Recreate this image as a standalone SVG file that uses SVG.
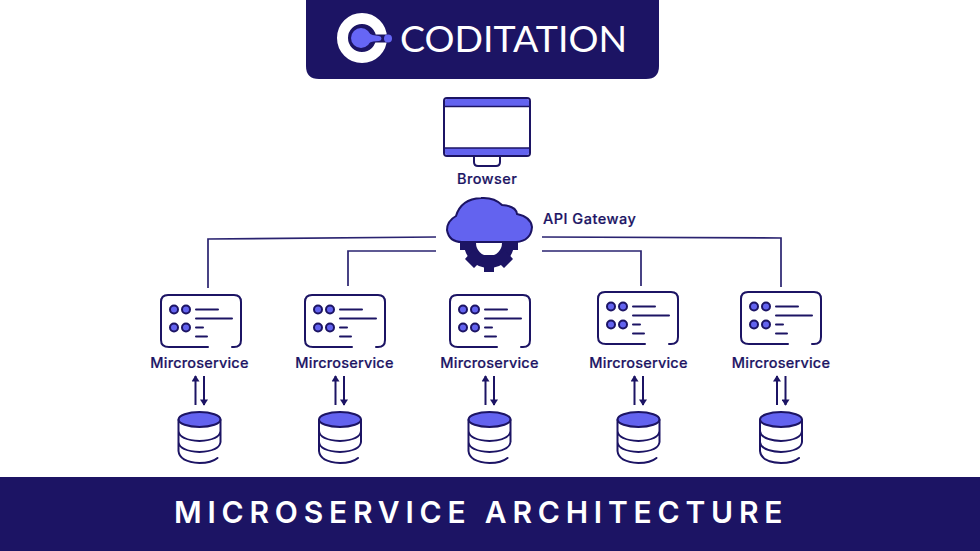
<svg xmlns="http://www.w3.org/2000/svg" xmlns:xlink="http://www.w3.org/1999/xlink" width="980" height="551" viewBox="0 0 980 551">
<style>
.ln{fill:none;stroke:#1c1464;stroke-width:2;stroke-linecap:round;stroke-linejoin:round}
.cn{fill:none;stroke:#2a2370;stroke-width:1.7}
.fl{fill:#6363ef;stroke:#1c1464;stroke-width:2}
.lb{font-family:"Inter","Open Sans",sans-serif;font-weight:500;fill:#1c1464;font-size:14.500px;letter-spacing:.2px;stroke:#1c1464;stroke-width:.2px}
</style>
<defs>
<marker id="ah" viewBox="0 0 8 10" refX="7" refY="5" markerWidth="8" markerHeight="8" markerUnits="userSpaceOnUse" orient="auto-start-reverse"><path d="M0 0L8 5L0 10Z" fill="#1c1464"/></marker>
<g id="card">
<path class="ln" d="M48 52H9Q1 52 1 45V7Q1 0 8 0H74Q81 0 81 7V45Q81 52 74 52H72"/>
<circle class="fl" cx="14" cy="14.500" r="4"/><circle class="fl" cx="26" cy="14.500" r="4"/>
<circle class="fl" cx="14" cy="32.500" r="4"/><circle class="fl" cx="26" cy="32.500" r="4"/>
<path class="ln" d="M36 14.500H58M36 23.500H72M36 32.500H43M36 41.500H47"/>
</g>
<g id="db">
<ellipse class="fl" cx="0" cy="7.500" rx="21" ry="7.500"/>
<path class="ln" d="M-21 8V39Q-20 50 0 51Q12 51 18 46M-21 19Q-20 28 0 29Q20 28 21 19M-21 30Q-20 39 0 40Q20 39 21 30M21 8V30"/>
</g>
<g id="arrows">
<path d="M-4 41V12" stroke="#1c1464" stroke-width="2" marker-end="url(#ah)"/>
<path d="M4.500 12V41" stroke="#1c1464" stroke-width="2" marker-end="url(#ah)"/>
</g>
</defs>
<rect width="980" height="551" fill="#fff"/>
<g id="header">
<path d="M306 0H659V66Q659 79 646 79H319Q306 79 306 66Z" fill="#1c1464"/>
<circle cx="362" cy="38" r="19.500" fill="none" stroke="#fff" stroke-width="11"/>
<path d="M375 34.500H392V42.500H375Z" fill="#1c1464"/>
<circle cx="361" cy="38" r="10" fill="#6666f5"/>
<path d="M368 33Q373 36 379 36A2.500 2.500 0 0 1 379 41Q373 41 368 43Z" fill="#6666f5"/>
<circle cx="388" cy="38.500" r="4" fill="#6666f5"/>
<text x="400" y="52" font-family="Lato,sans-serif" font-size="37" fill="#fff" textLength="227" lengthAdjust="spacingAndGlyphs">CODITATION</text>
</g>
<g id="browser">
<rect x="444" y="98" width="86" height="58" rx="3" fill="#fff" stroke="#1c1464" stroke-width="2"/>
<path d="M445 106V101Q445 99 447 99H527Q529 99 529 101V106ZM445 148V153Q445 155 447 155H527Q529 155 529 153V148Z" fill="#6363ef"/>
<path d="M445 106.500H529M445 148H529" stroke="#1c1464" stroke-width="1.500" fill="none"/>
<path class="ln" d="M474 157L474 162Q474 166 478 166H496Q500 166 500 162L500 157" stroke-width="1.500"/>
<text class="lb" x="487" y="183.500" text-anchor="middle" textLength="60">Browser</text>
</g>
<g id="gateway">
<circle cx="489" cy="243" r="19" fill="none" stroke="#1c1464" stroke-width="12"/>
<path d="M484 255H494V272H484ZM460 238H472V250H460ZM506 238H518V250H506ZM465 259L473 250L484 258L474 268ZM513 259L505 250L494 258L504 268Z" fill="#1c1464"/>
<path d="M462 242H516Q531 241 532 227Q531 217 517 214Q516 206 502 205Q494 197 481 198Q461 199 456 216Q447 221 447 230Q449 242 462 242Z" fill="#6363ef" stroke="#1c1464" stroke-width="2"/>
<path d="M477 243A12 12 0 0 0 501 243Z" fill="#fff"/>
<text class="lb" x="543" y="224" textLength="93">API Gateway</text>
</g>
<g id="connectors">
<path class="cn" d="M436 237L208 239V288"/>
<path class="cn" d="M436 251L348 251V286"/>
<path class="cn" d="M542 251H641V286"/>
<path class="cn" d="M542 237L781 238V287"/>
</g>
<g id="service-1"><use href="#card" x="160" y="295"/><text class="lb" x="199.500" y="368" text-anchor="middle">Mircroservice</text><use href="#arrows" x="199.500" y="364"/></g>
<g id="service-2"><use href="#card" x="304" y="295"/><text class="lb" x="344.500" y="368" text-anchor="middle">Mircroservice</text><use href="#arrows" x="339.500" y="364"/></g>
<g id="service-3"><use href="#card" x="449" y="295"/><text class="lb" x="489.500" y="368" text-anchor="middle">Mircroservice</text><use href="#arrows" x="489.500" y="364"/></g>
<g id="service-4"><use href="#card" x="597" y="292"/><text class="lb" x="638.500" y="368" text-anchor="middle">Mircroservice</text><use href="#arrows" x="638.500" y="364"/></g>
<g id="service-5"><use href="#card" x="740" y="292"/><text class="lb" x="781" y="368" text-anchor="middle">Mircroservice</text><use href="#arrows" x="781" y="364"/></g>
<g id="db-1"><use href="#db" x="199.500" y="412"/></g>
<g id="db-2"><use href="#db" x="340" y="412"/></g>
<g id="db-3"><use href="#db" x="489.500" y="412"/></g>
<g id="db-4"><use href="#db" x="638.500" y="412"/></g>
<g id="db-5"><use href="#db" x="781" y="412"/></g>
<g id="footer">
<rect x="0" y="477" width="980" height="74" fill="#1c1464"/>
<text x="174" y="523" font-family="Inter,'Open Sans',sans-serif" font-weight="600" font-size="30" fill="#fff" letter-spacing="5.800">MICROSERVICE ARCHITECTURE</text>
</g>
</svg>
